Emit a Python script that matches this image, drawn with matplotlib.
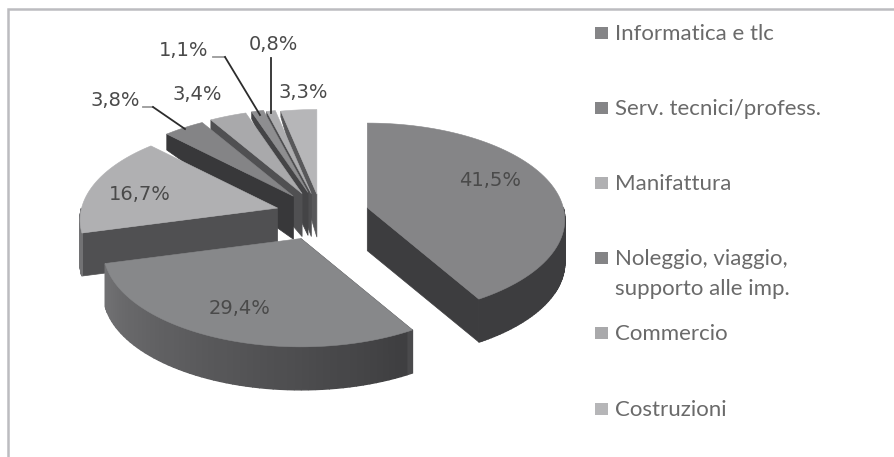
import numpy as np
import matplotlib
matplotlib.use("Agg")
import matplotlib.pyplot as plt
from matplotlib.patches import Polygon, Rectangle

# Slice values, clockwise from twelve o'clock
shares = [41.5, 29.4, 16.7, 3.8, 3.4, 1.1, 0.8, 3.3]
top_colors = ["#858587", "#87888a", "#b0b0b2", "#848486", "#a9a9ab", "#8e8e90", "#adadaf", "#b6b6b8"]
side_colors = ["#3d3d3f", "#4a4a4c", "#505052", "#38383a", "#505052", "#444446", "#4e4e50", "#58585a"]
explode = [48, 53, 45, 45, 45, 45, 42, 40]
label_pos = [(490, 181), (240, 309), (140, 195), (115, 100), (197, 95), (184, 50), (273, 45), (303, 92)]

categories = ["Informatica e tlc", "Serv. tecnici/profess.", "Manifattura",
              "Noleggio, viaggio,\nsupporto alle imp.", "Commercio", "Costruzioni"]
legend_colors = ["#858587", "#858587", "#b0b0b2", "#848486", "#a9a9ab", "#b6b6b8"]
legend_y = [33, 108, 183, 258, 333, 409]

CENTER = (321, 214)
RX, RY = 196, 95
PERSP = 0.123
DEPTH = 43


def project(theta, apex):
    # clockwise angle (radians) on the rim -> pixel position, nearer rim drawn larger
    x = np.sin(theta)
    y = -np.cos(theta)
    w = 1 - PERSP * y
    return np.column_stack([apex[0] + RX * x / w, apex[1] + RY * y / w])


def depth_at(theta):
    # the far part of the pie gets a thinner wall
    y = -np.cos(theta)
    return np.clip(DEPTH + 38 * np.minimum(y, 0), 0, DEPTH)


def rim_color(theta, base):
    if theta > np.radians(150):
        t = (theta - np.radians(150)) / np.radians(105)
        a = np.array(matplotlib.colors.to_rgb("#3e3e40"))
        b = np.array(matplotlib.colors.to_rgb("#727274"))
        return tuple(a + (b - a) * min(t, 1))
    return base


fig = plt.figure(figsize=(8.94, 4.57), dpi=100)
ax = fig.add_axes([0, 0, 1, 1])
ax.set_xlim(0, 894)
ax.set_ylim(457, 0)
ax.axis("off")

# chart frame, open on the right and bottom
ax.plot([8, 8, 894], [457, 9, 9], color="#bcbcc0", lw=1.8, solid_joinstyle="miter")

edges = np.radians(np.cumsum([0] + shares) * 3.6)
draw_order = [7, 6, 5, 4, 3, 2, 0, 1]
for z, i in enumerate(draw_order):
    t0, t1 = edges[i], edges[i + 1]
    mid = (t0 + t1) / 2
    apex = (CENTER[0] + explode[i] * np.sin(mid), CENTER[1] - 0.5 * explode[i] * np.cos(mid))
    zo = 2 + z

    # straight wall of the slice, only the one facing the viewer
    edge_t = t1 if t1 < np.pi else t0
    tip = project(np.array([edge_t]), apex)[0]
    d = depth_at(np.array([edge_t]))[0]
    ax.add_patch(Polygon([apex, tip, (tip[0], tip[1] + d), (apex[0], apex[1] + DEPTH)],
                         closed=True, fc=side_colors[i], ec=side_colors[i], lw=0.5, zorder=zo))

    # curved outer wall, split in strips for the shading
    lo, hi = max(t0, np.pi / 2), min(t1, 3 * np.pi / 2)
    if hi > lo:
        ts = np.linspace(lo, hi, 60)
        pts = project(ts, apex)
        ds = depth_at(ts)
        for k in range(len(ts) - 1):
            c = rim_color(ts[k], side_colors[i])
            ax.add_patch(Polygon([pts[k], pts[k + 1], (pts[k + 1][0], pts[k + 1][1] + ds[k + 1]),
                                  (pts[k][0], pts[k][1] + ds[k])],
                                 closed=True, fc=c, ec=c, lw=1.0, zorder=zo))

    # top face
    arc = project(np.linspace(t0, t1, 80), apex)
    ax.add_patch(Polygon(np.vstack([[apex], arc]), closed=True, fc=top_colors[i],
                         ec=top_colors[i], lw=0.4, zorder=zo + 0.5))

for v, (lx, ly) in zip(shares, label_pos):
    ax.text(lx, ly, f"{v:.1f}%".replace(".", ","), ha="center", va="center",
            fontsize=14, color="#4a4a4a", family="DejaVu Sans", zorder=30)

# leader lines for the small slices
ax.plot([143, 153], [107, 107], color="#9a9a9a", lw=1.3, zorder=31)
ax.plot([153, 185], [107, 129], color="#2c2c2c", lw=1.3, zorder=31)
ax.plot([213, 225], [57, 57], color="#9a9a9a", lw=1.3, zorder=31)
ax.plot([225, 260], [57, 115], color="#2c2c2c", lw=1.3, zorder=31)
ax.plot([271, 271], [58, 113], color="#2c2c2c", lw=1.3, zorder=31)

# legend, wrapped entries drawn line by line
for name, c, y in zip(categories, legend_colors, legend_y):
    ax.add_patch(Rectangle((595, y - 6), 13, 12, fc=c, ec="none", zorder=30))
    for n, line in enumerate(name.split("\n")):
        ax.text(615, y + 7 + 30 * n, line, ha="left", va="baseline", fontsize=16,
                color="#6a6a6a", family="Lato", zorder=30)

fig.savefig("out.png", dpi=100)
